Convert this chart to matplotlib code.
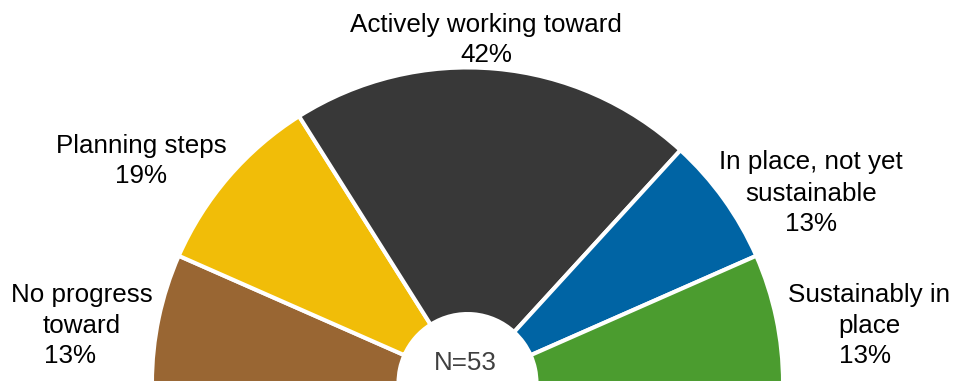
import matplotlib
matplotlib.use("Agg")
import matplotlib.pyplot as plt

# Survey responses (N=53), ordered left to right across the half-donut
categories = ["No progress\ntoward", "Planning steps", "Actively working toward",
              "In place, not yet\nsustainable", "Sustainably in\nplace"]
counts = [7, 10, 22, 7, 7]
colors = ["#996633", "#F1BD08", "#383838", "#0064A4", "#4B9C2F"]

W, H = 954, 383
plt.rcParams["font.family"] = ["Liberation Sans", "DejaVu Sans"]

fig = plt.figure(figsize=(W / 100, H / 100), dpi=100)
ax = fig.add_axes([0, 0, 1, 1])
ax.set_xlim(0, W)
ax.set_ylim(0, H)
ax.axis("off")

total = sum(counts)
cx, cy = 467.5, 0.0
r_out, r_in = 315.5, 69.0

# The lower half is a blank wedge so the visible slices span 180 degrees
wedges, _ = ax.pie(
    counts + [total],
    colors=colors + ["none"],
    startangle=180,
    counterclock=False,
    center=(cx, cy),
    radius=r_out,
    wedgeprops=dict(width=r_out - r_in, edgecolor="white", linewidth=2.9),
    frame=True,
)
wedges[-1].set_visible(False)
ax.set_xlim(0, W)
ax.set_ylim(0, H)
ax.set_aspect("auto")
ax.axis("off")

pcts = [f"{round(100 * c / total)}%" for c in counts]

fs = 18.7


def put_lines(lines, xs, baselines):
    for text, x, yb in zip(lines, xs, baselines):
        ax.text(x, H - yb, text, ha="center", va="baseline", fontsize=fs,
                color="#000000")


label_layout = [
    ([82, 82, 70], [302, 333, 363]),
    ([141, 141], [153, 183]),
    ([486, 486], [32, 62]),
    ([811, 811, 811], [169, 201, 231]),
    ([869, 869, 865], [302, 333, 363]),
]

for name, pct, (xs, ys) in zip(categories, pcts, label_layout):
    put_lines(name.split("\n") + [pct], xs, ys)

ax.text(465, H - 370, f"N={total}", ha="center", va="baseline", fontsize=fs,
        color="#404040")

fig.savefig("out.png", dpi=100)
